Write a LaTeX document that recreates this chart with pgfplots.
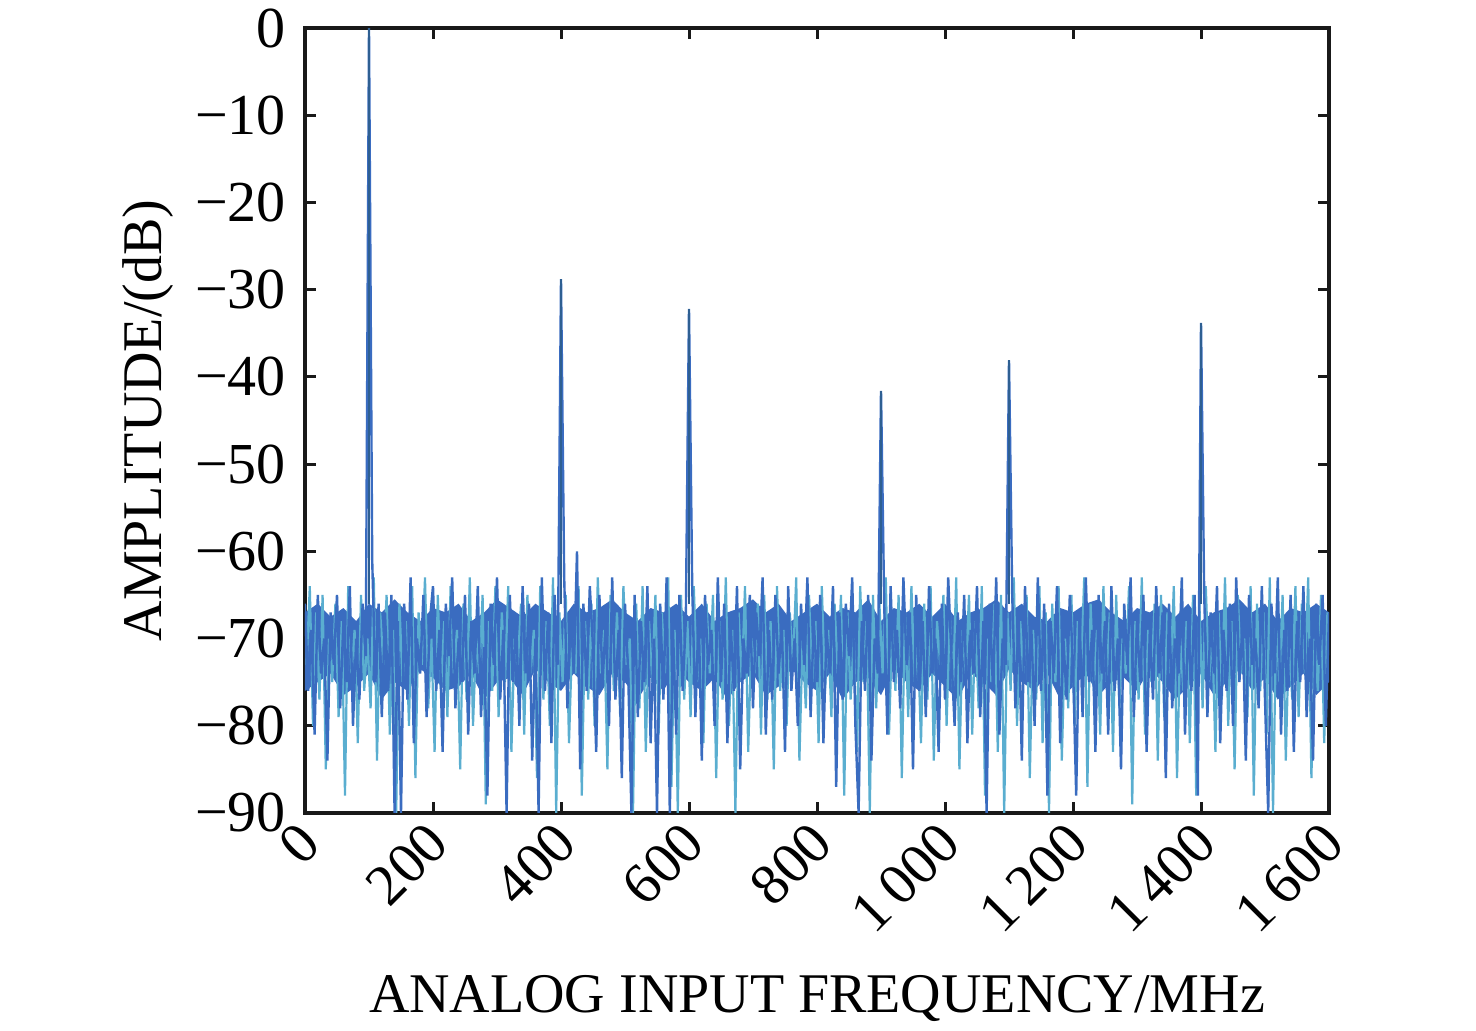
\documentclass[border=0pt]{standalone}
\usepackage{fontspec}
\setmainfont{Liberation Serif}
\usepackage{pgfplots}
\pgfplotsset{compat=1.18}
\definecolor{mainblue}{HTML}{3A6CC0}
\definecolor{lightblue}{HTML}{5AAED0}
\definecolor{spikeblue}{HTML}{2E5F92}
\begin{document}
\fontsize{28}{33}\selectfont
\begin{tikzpicture}
\useasboundingbox (-152.5pt,-109pt) rectangle (585.5pt,406.5pt);
\begin{axis}[
  at={(0,0)}, anchor=south west,
  scale only axis, width=512pt, height=392.5pt,
  xmin=0, xmax=1600, ymin=-90, ymax=0,
  axis line style={line width=2pt, black!90},
  tick style={line width=1.5pt, black!90},
  major tick length=5.5pt,
  tick align=inside,
  xtick={0,200,...,1600},
  xticklabels={0,200,400,600,800,1\,000,1\,200,1\,400,1\,600},
  ytick={-90,-80,...,0},
  yticklabels={−90,−80,−70,−60,−50,−40,−30,−20,−10,0},
  xticklabel style={rotate=45, anchor=east, xshift=4pt, yshift=-9pt},
  yticklabel style={xshift=0pt},
  ticklabel style={font=\fontsize{29}{33}\selectfont},
  clip=true,
]
\addplot[draw=none, fill=mainblue] coordinates {
(0,-67)(20,-66)(40,-67.5)(60,-66.5)(80,-68)(100,-66)(120,-67)(140,-65.5)(160,-67)(180,-68)
(200,-66.5)(220,-67)(240,-66)(260,-68)(280,-67)(300,-65.5)(320,-66.5)(340,-67.5)(360,-66)(380,-67)
(400,-68)(420,-66)(440,-67)(460,-66.5)(480,-65.5)(500,-67)(520,-68)(540,-66.5)(560,-67)(580,-66)
(600,-67.5)(620,-66)(640,-68)(660,-67)(680,-66.5)(700,-65.5)(720,-67)(740,-66)(760,-68)(780,-67)
(800,-66)(820,-67.5)(840,-66.5)(860,-67)(880,-65.5)(900,-68)(920,-66.5)(940,-67)(960,-66)(980,-67.5)
(1000,-66)(1020,-68)(1040,-67)(1060,-66.5)(1080,-65.5)(1100,-67)(1120,-66)(1140,-67.5)(1160,-68)(1180,-66.5)
(1200,-67)(1220,-66)(1240,-65.5)(1260,-67)(1280,-68)(1300,-66.5)(1320,-67)(1340,-66)(1360,-67.5)(1380,-66)
(1400,-68)(1420,-67)(1440,-66.5)(1460,-65.5)(1480,-67)(1500,-66)(1520,-68)(1540,-66.5)(1560,-67)(1580,-66)
(1600,-67)
(1600,-75)(1580,-76.5)(1560,-74)(1540,-75.5)(1520,-77)(1500,-74.5)(1480,-76)(1460,-73.5)(1440,-75)(1420,-76.5)
(1400,-74)(1380,-75.5)(1360,-77)(1340,-75)(1320,-73.5)(1300,-76)(1280,-74.5)(1260,-75)(1240,-76.5)(1220,-74)
(1200,-75.5)(1180,-77)(1160,-74)(1140,-76)(1120,-75)(1100,-73.5)(1080,-76.5)(1060,-75)(1040,-74)(1020,-77)
(1000,-75.5)(980,-74)(960,-76)(940,-75)(920,-73.5)(900,-76.5)(880,-74.5)(860,-75)(840,-77)(820,-74)
(800,-76)(780,-75)(760,-73.5)(740,-75.5)(720,-76.5)(700,-74)(680,-75)(660,-77)(640,-74.5)(620,-76)
(600,-75)(580,-73.5)(560,-76)(540,-74.5)(520,-77)(500,-75)(480,-74)(460,-76.5)(440,-75.5)(420,-74)
(400,-76)(380,-75)(360,-73.5)(340,-76.5)(320,-74.5)(300,-75)(280,-77)(260,-74)(240,-75.5)(220,-76)
(200,-74.5)(180,-73.5)(160,-76)(140,-75)(120,-77)(100,-74)(80,-75.5)(60,-76.5)(40,-74)(20,-75)
(0,-76)
} -- cycle;
\addplot[lightblue, line width=1.1pt] coordinates {
(2.5,-73)(7.5,-64)(12.5,-80)(17.5,-67)(22.5,-77)(27.5,-65)(32.5,-85)(37.5,-70)(42.5,-75)(47.5,-66)
(52.5,-79)(57.5,-68)(62.5,-88)(67.5,-64)(72.5,-74)(77.5,-69)(82.5,-82)(87.5,-65)(92.5,-76)(97.5,-70)
(102.5,-78)(107.5,-63)(112.5,-84)(117.5,-67)(122.5,-73)(127.5,-65)(132.5,-81)(137.5,-69)(142.5,-90)(147.5,-66)
(152.5,-75)(157.5,-68)(162.5,-80)(167.5,-64)(172.5,-86)(177.5,-67)(182.5,-73)(187.5,-63)(192.5,-78)(197.5,-70)
(202.5,-83)(207.5,-65)(212.5,-76)(217.5,-68)(222.5,-79)(227.5,-64)(232.5,-74)(237.5,-69)(242.5,-85)(247.5,-66)
(252.5,-77)(257.5,-63)(262.5,-80)(267.5,-70)(272.5,-74)(277.5,-65)(282.5,-89)(287.5,-68)(292.5,-76)(297.5,-64)
(302.5,-79)(307.5,-67)(312.5,-75)(317.5,-64)(322.5,-83)(327.5,-70)(332.5,-73)(337.5,-66)(342.5,-81)(347.5,-65)
(352.5,-74)(357.5,-69)(362.5,-86)(367.5,-64)(372.5,-77)(377.5,-68)(382.5,-80)(387.5,-63)(392.5,-90)(397.5,-67)
(402.5,-75)(407.5,-65)(412.5,-82)(417.5,-70)(422.5,-74)(427.5,-64)(432.5,-88)(437.5,-68)(442.5,-77)(447.5,-66)
(452.5,-80)(457.5,-63)(462.5,-74)(467.5,-69)(472.5,-85)(477.5,-65)(482.5,-76)(487.5,-67)(492.5,-79)(497.5,-64)
(502.5,-73)(507.5,-70)(512.5,-90)(517.5,-66)(522.5,-78)(527.5,-64)(532.5,-83)(537.5,-68)(542.5,-75)(547.5,-65)
(552.5,-81)(557.5,-67)(562.5,-74)(567.5,-63)(572.5,-87)(577.5,-69)(582.5,-90)(587.5,-65)(592.5,-77)(597.5,-68)
(602.5,-79)(607.5,-64)(612.5,-75)(617.5,-70)(622.5,-82)(627.5,-66)(632.5,-74)(637.5,-65)(642.5,-86)(647.5,-68)
(652.5,-77)(657.5,-63)(662.5,-80)(667.5,-69)(672.5,-90)(677.5,-67)(682.5,-75)(687.5,-64)(692.5,-83)(697.5,-70)
(702.5,-74)(707.5,-66)(712.5,-81)(717.5,-65)(722.5,-77)(727.5,-68)(732.5,-85)(737.5,-64)(742.5,-76)(747.5,-69)
(752.5,-80)(757.5,-67)(762.5,-73)(767.5,-63)(772.5,-84)(777.5,-70)(782.5,-78)(787.5,-65)(792.5,-75)(797.5,-68)
(802.5,-82)(807.5,-64)(812.5,-76)(817.5,-69)(822.5,-79)(827.5,-66)(832.5,-74)(837.5,-65)(842.5,-88)(847.5,-67)
(852.5,-77)(857.5,-70)(862.5,-83)(867.5,-64)(872.5,-75)(877.5,-68)(882.5,-90)(887.5,-65)(892.5,-78)(897.5,-66)
(902.5,-74)(907.5,-63)(912.5,-81)(917.5,-69)(922.5,-76)(927.5,-65)(932.5,-86)(937.5,-67)(942.5,-79)(947.5,-64)
(952.5,-75)(957.5,-70)(962.5,-82)(967.5,-66)(972.5,-77)(977.5,-64)(982.5,-84)(987.5,-68)(992.5,-73)(997.5,-65)
(1002.5,-80)(1007.5,-67)(1012.5,-76)(1017.5,-63)(1022.5,-85)(1027.5,-69)(1032.5,-74)(1037.5,-65)(1042.5,-81)(1047.5,-68)
(1052.5,-78)(1057.5,-64)(1062.5,-88)(1067.5,-70)(1072.5,-75)(1077.5,-66)(1082.5,-83)(1087.5,-65)(1092.5,-90)(1097.5,-67)
(1102.5,-76)(1107.5,-63)(1112.5,-80)(1117.5,-68)(1122.5,-74)(1127.5,-65)(1132.5,-86)(1137.5,-69)(1142.5,-77)(1147.5,-64)
(1152.5,-82)(1157.5,-67)(1162.5,-90)(1167.5,-66)(1172.5,-75)(1177.5,-64)(1182.5,-84)(1187.5,-70)(1192.5,-78)(1197.5,-65)
(1202.5,-80)(1207.5,-68)(1212.5,-74)(1217.5,-63)(1222.5,-87)(1227.5,-66)(1232.5,-76)(1237.5,-69)(1242.5,-81)(1247.5,-64)
(1252.5,-75)(1257.5,-67)(1262.5,-83)(1267.5,-65)(1272.5,-78)(1277.5,-70)(1282.5,-74)(1287.5,-64)(1292.5,-89)(1297.5,-68)
(1302.5,-77)(1307.5,-63)(1312.5,-81)(1317.5,-69)(1322.5,-75)(1327.5,-66)(1332.5,-84)(1337.5,-65)(1342.5,-79)(1347.5,-67)
(1352.5,-74)(1357.5,-64)(1362.5,-86)(1367.5,-70)(1372.5,-76)(1377.5,-68)(1382.5,-82)(1387.5,-65)(1392.5,-88)(1397.5,-66)
(1402.5,-78)(1407.5,-64)(1412.5,-75)(1417.5,-69)(1422.5,-83)(1427.5,-67)(1432.5,-77)(1437.5,-63)(1442.5,-80)(1447.5,-68)
(1452.5,-85)(1457.5,-65)(1462.5,-74)(1467.5,-70)(1472.5,-79)(1477.5,-64)(1482.5,-88)(1487.5,-66)(1492.5,-76)(1497.5,-67)
(1502.5,-81)(1507.5,-63)(1512.5,-90)(1517.5,-68)(1522.5,-75)(1527.5,-65)(1532.5,-84)(1537.5,-69)(1542.5,-77)(1547.5,-64)
(1552.5,-79)(1557.5,-66)(1562.5,-74)(1567.5,-63)(1572.5,-86)(1577.5,-70)(1582.5,-76)(1587.5,-65)(1592.5,-82)(1597.5,-67)
};
\addplot[mainblue, line width=1.2pt] coordinates {
(0,-66)(5,-76)(10,-69)(15,-81)(20,-65)(25,-74)(30,-70)(35,-84)(40,-67)(45,-73)
(50,-65)(55,-78)(60,-68)(65,-75)(70,-64)(75,-80)(80,-70)(85,-77)(90,-66)(95,-72)
(100,0)(105,-61)(110,-75)(115,-66)(120,-79)(125,-67)(130,-76)(135,-65)(140,-90)(145,-68)
(150,-90)(155,-66)(160,-77)(165,-63)(170,-82)(175,-70)(180,-74)(185,-65)(190,-79)(195,-68)
(200,-64)(205,-76)(210,-69)(215,-83)(220,-66)(225,-72)(230,-63)(235,-78)(240,-70)(245,-75)
(250,-65)(255,-81)(260,-68)(265,-74)(270,-64)(275,-79)(280,-71)(285,-88)(290,-66)(295,-73)
(300,-63)(305,-77)(310,-69)(315,-90)(320,-65)(325,-75)(330,-68)(335,-80)(340,-64)(345,-74)
(350,-66)(355,-84)(360,-70)(365,-90)(370,-63)(375,-76)(380,-67)(385,-82)(390,-65)(395,-73)
(400,-28.8)(405,-63)(410,-78)(415,-67)(420,-74)(425,-60)(430,-85)(435,-66)(440,-76)(445,-64)
(450,-71)(455,-83)(460,-65)(465,-75)(470,-68)(475,-80)(480,-63)(485,-77)(490,-69)(495,-86)
(500,-66)(505,-74)(510,-90)(515,-65)(520,-79)(525,-68)(530,-75)(535,-64)(540,-82)(545,-70)
(550,-90)(555,-66)(560,-77)(565,-63)(570,-90)(575,-69)(580,-81)(585,-65)(590,-76)(595,-68)
(600,-32.2)(605,-64)(610,-79)(615,-67)(620,-84)(625,-65)(630,-73)(635,-69)(640,-80)(645,-63)
(650,-75)(655,-66)(660,-82)(665,-68)(670,-76)(675,-64)(680,-85)(685,-70)(690,-74)(695,-65)
(700,-78)(705,-67)(710,-72)(715,-63)(720,-81)(725,-69)(730,-77)(735,-65)(740,-74)(745,-68)
(750,-83)(755,-64)(760,-76)(765,-70)(770,-80)(775,-66)(780,-73)(785,-63)(790,-79)(795,-68)
(800,-75)(805,-65)(810,-82)(815,-69)(820,-74)(825,-64)(830,-87)(835,-67)(840,-77)(845,-66)
(850,-72)(855,-63)(860,-80)(865,-90)(870,-68)(875,-76)(880,-65)(885,-84)(890,-70)(895,-74)
(900,-41.6)(905,-66)(910,-81)(915,-64)(920,-75)(925,-69)(930,-78)(935,-63)(940,-73)(945,-67)
(950,-85)(955,-65)(960,-76)(965,-68)(970,-79)(975,-64)(980,-74)(985,-70)(990,-83)(995,-66)
(1000,-77)(1005,-63)(1010,-72)(1015,-80)(1020,-67)(1025,-75)(1030,-65)(1035,-82)(1040,-69)(1045,-74)
(1050,-64)(1055,-79)(1060,-68)(1065,-90)(1070,-66)(1075,-76)(1080,-63)(1085,-81)(1090,-70)(1095,-73)
(1100,-38.1)(1105,-65)(1110,-78)(1115,-67)(1120,-84)(1125,-64)(1130,-75)(1135,-69)(1140,-80)(1145,-63)
(1150,-76)(1155,-66)(1160,-88)(1165,-68)(1170,-74)(1175,-64)(1180,-82)(1185,-70)(1190,-77)(1195,-65)
(1200,-73)(1205,-88)(1210,-67)(1215,-79)(1220,-63)(1225,-75)(1230,-69)(1235,-83)(1240,-65)(1245,-74)
(1250,-68)(1255,-81)(1260,-64)(1265,-76)(1270,-70)(1275,-85)(1280,-66)(1285,-73)(1290,-63)(1295,-79)
(1300,-68)(1305,-75)(1310,-65)(1315,-83)(1320,-69)(1325,-77)(1330,-64)(1335,-74)(1340,-67)(1345,-86)
(1350,-66)(1355,-78)(1360,-70)(1365,-74)(1370,-63)(1375,-81)(1380,-68)(1385,-76)(1390,-65)(1395,-88)
(1400,-33.8)(1405,-65)(1410,-79)(1415,-67)(1420,-74)(1425,-64)(1430,-82)(1435,-69)(1440,-76)(1445,-66)
(1450,-80)(1455,-63)(1460,-75)(1465,-68)(1470,-84)(1475,-65)(1480,-73)(1485,-70)(1490,-78)(1495,-64)
(1500,-77)(1505,-90)(1510,-66)(1515,-74)(1520,-63)(1525,-81)(1530,-69)(1535,-76)(1540,-65)(1545,-83)
(1550,-68)(1555,-75)(1560,-64)(1565,-79)(1570,-70)(1575,-84)(1580,-66)(1585,-73)(1590,-65)(1595,-80)
(1600,-67)
};
\addplot[spikeblue, line width=1.2pt, unbounded coords=jump] coordinates {
(100,-66)(100,0)(100,nan)
(400,-66)(400,-28.8)(400,nan)
(600,-66)(600,-32.2)(600,nan)
(900,-66)(900,-41.6)(900,nan)
(1100,-66)(1100,-38.1)(1100,nan)
(1400,-66)(1400,-33.8)
};
\end{axis}
\node[anchor=base] at (256pt,-100pt) {ANALOG INPUT FREQUENCY/MHz};
\node[anchor=base, rotate=90] at (-71.5pt,196.25pt) {AMPLITUDE/(dB)};
\end{tikzpicture}
\end{document}
